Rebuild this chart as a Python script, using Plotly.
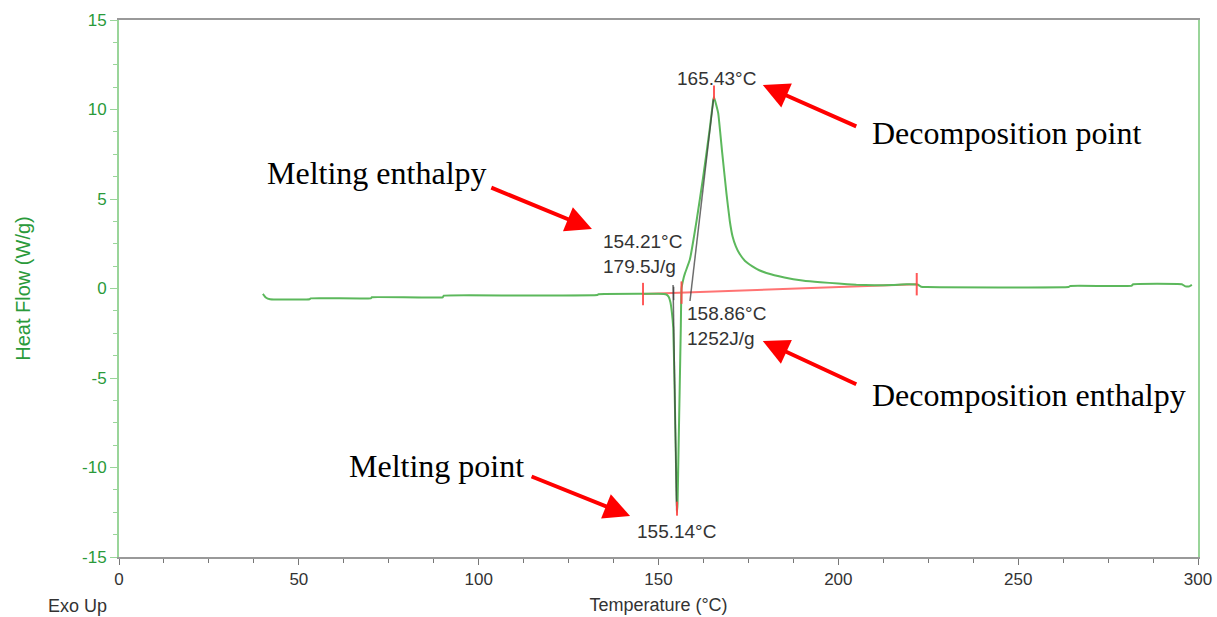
import plotly.graph_objects as go

# DSC heat-flow trace (Exo Up)
temperature = [40.0, 40.8, 42.0, 53.0, 53.3, 70.0, 70.3, 90.0, 90.3, 110.0, 133.0, 133.3,
               145.0, 150.0, 152.0, 152.8, 153.3, 153.7, 154.1, 154.4, 154.7, 155.0, 155.14,
               155.3, 155.6, 155.9, 156.2, 156.4, 157.0, 157.4, 158.7, 160.6, 162.4, 164.3,
               165.2, 165.43, 166.6, 167.7, 168.9, 169.8, 170.6, 171.5, 172.5, 174.0, 176.0,
               178.0, 180.0, 185.0, 190.0, 195.0, 200.0, 205.0, 210.0, 215.0, 219.0, 222.0,
               223.0, 224.6, 264.0, 264.5, 281.5, 282.0, 295.5, 296.5, 297.6, 298.3]
heat_flow = [-0.30, -0.50, -0.60, -0.60, -0.55, -0.55, -0.49, -0.49, -0.40, -0.39, -0.36, -0.32,
             -0.30, -0.30, -0.32, -0.45, -0.75, -1.30, -2.2, -4.8, -8.0, -11.3, -12.5,
             -12.0, -8.7, -5.5, -2.2, 0.0, 0.6, 0.87, 1.6, 3.8, 6.2, 9.0,
             10.5, 10.7, 9.8, 7.6, 5.3, 3.8, 2.9, 2.35, 1.95, 1.55, 1.25,
             1.02, 0.87, 0.62, 0.45, 0.35, 0.28, 0.21, 0.18, 0.20, 0.24, 0.22,
             0.10, 0.08, 0.08, 0.14, 0.15, 0.24, 0.24, 0.12, 0.12, 0.20]

# integration baseline and its limit marks
baseline_t = [145.7, 221.8]
baseline_hf = [-0.31, 0.24]
limit_t = [145.7, 156.4, 221.8]
limit_hf = [-0.31, -0.23, 0.24]

# onset tangents
melt_tangent_t = [154.05, 155.05]
melt_tangent_hf = [0.2, -12.4]
onset_mark_t = [154.21, 154.21]
onset_mark_hf = [0.1, -0.65]
decomp_tangent_t = [158.75, 165.3]
decomp_tangent_hf = [-0.7, 10.6]

# peak temperatures
peak_t = [165.43, 155.14]
peak_hf = [10.95, -12.3]

x_ticks = [0, 50, 100, 150, 200, 250, 300]
y_ticks = [-15, -10, -5, 0, 5, 10, 15]
y_tick_text = ["-15", "-10", "-5", "0", "5", "10", "15"]

GREEN = "#5cb85c"
LABEL_GREEN = "#2a9a3a"
AXIS_GREEN = "#9ad59a"
TXT = "#333333"
SANS = "Liberation Sans, Arial, sans-serif"

fig = go.Figure()
fig.add_trace(go.Scatter(x=baseline_t, y=baseline_hf, mode="lines",
                         line=dict(color="rgba(255,90,90,0.85)", width=2), hoverinfo="skip"))
fig.add_trace(go.Scatter(x=temperature, y=heat_flow, mode="lines",
                         line=dict(color=GREEN, width=2, shape="spline", smoothing=0.3)))
for tx, ty in [(melt_tangent_t, melt_tangent_hf), (onset_mark_t, onset_mark_hf),
               (decomp_tangent_t, decomp_tangent_hf)]:
    fig.add_trace(go.Scatter(x=tx, y=ty, mode="lines",
                             line=dict(color="rgba(60,60,60,0.75)", width=1.5), hoverinfo="skip"))
fig.add_trace(go.Scatter(x=limit_t, y=limit_hf, mode="markers",
                         marker=dict(symbol="line-ns", size=16,
                                     line=dict(color="rgba(255,70,70,0.9)", width=2)),
                         hoverinfo="skip"))
fig.add_trace(go.Scatter(x=peak_t, y=peak_hf, mode="markers",
                         marker=dict(symbol="line-ns", size=10,
                                     line=dict(color="rgba(255,70,70,0.9)", width=2)),
                         hoverinfo="skip"))

annotations = []

# value labels
small = dict(family=SANS, size=19, color=TXT)
for txt, x, y, anchor in [("165.43°C", 166.0, 11.76, "center"),
                          ("154.21°C", 134.0, 2.65, "left"),
                          ("179.5J/g", 134.0, 1.24, "left"),
                          ("158.86°C", 157.4, -1.37, "left"),
                          ("1252J/g", 157.4, -2.77, "left"),
                          ("155.14°C", 154.9, -13.55, "center")]:
    annotations.append(dict(x=x, y=y, xref="x", yref="y", text=txt, showarrow=False,
                            xanchor=anchor, yanchor="middle", font=small))

# explanatory notes
serif = dict(family="Liberation Serif, Times New Roman, serif", size=32, color="#000000")
for txt, x, y in [("Decomposition point", 208.8, 8.69),
                  ("Melting enthalpy", 40.6, 6.45),
                  ("Decomposition enthalpy", 208.8, -5.95),
                  ("Melting point", 63.4, -9.92)]:
    annotations.append(dict(x=x, y=y, xref="x", yref="y", text=txt, showarrow=False,
                            xanchor="left", yanchor="middle", font=serif))

# red pointer arrows (head at x,y; tail at ax,ay)
for hx, hy, tx, ty in [(179.0, 11.37, 205.4, 9.02),
                       (131.5, 3.32, 103.1, 5.67),
                       (179.0, -2.93, 205.4, -5.39),
                       (142.1, -12.71, 114.3, -10.47)]:
    annotations.append(dict(x=hx, y=hy, ax=tx, ay=ty, xref="x", yref="y", axref="x", ayref="y",
                            text="", showarrow=True, arrowhead=2, arrowsize=1.3,
                            arrowwidth=4, arrowcolor="#ff0000", standoff=0, startstandoff=0))

annotations.append(dict(x=-0.038, y=-0.091, xref="paper", yref="paper", text="Exo Up",
                        showarrow=False, xanchor="center", yanchor="middle",
                        font=dict(family=SANS, size=18, color=TXT)))

fig.update_layout(
    width=1217, height=617,
    margin=dict(l=119, r=19, t=20, b=60),
    paper_bgcolor="white", plot_bgcolor="white",
    showlegend=False,
    annotations=annotations,
    xaxis=dict(range=[0, 300], tickvals=x_ticks, ticks="outside", ticklen=6, tickwidth=1,
               tickcolor="#777777", showline=True, linecolor="#999999", linewidth=2,
               mirror=True, showgrid=False, zeroline=False, automargin=False,
               minor=dict(dtick=12.5, ticks="outside", ticklen=4, tickcolor="#777777"),
               tickfont=dict(family=SANS, size=17, color=TXT),
               title=dict(text="Temperature (°C)", standoff=10,
                          font=dict(family=SANS, size=18, color=TXT))),
    yaxis=dict(range=[-15, 15], tickvals=y_ticks, ticktext=y_tick_text, ticks="outside",
               ticklen=7, tickwidth=1, automargin=False,
               tickcolor=AXIS_GREEN, showline=True, linecolor=AXIS_GREEN, linewidth=2,
               mirror=True, showgrid=False, zeroline=False,
               minor=dict(dtick=1.25, ticks="outside", ticklen=4, tickcolor=AXIS_GREEN),
               tickfont=dict(family=SANS, size=17, color=LABEL_GREEN),
               title=dict(text="Heat Flow (W/g)", standoff=46,
                          font=dict(family=SANS, size=20, color=LABEL_GREEN))),
)

fig.write_html("out.html")
